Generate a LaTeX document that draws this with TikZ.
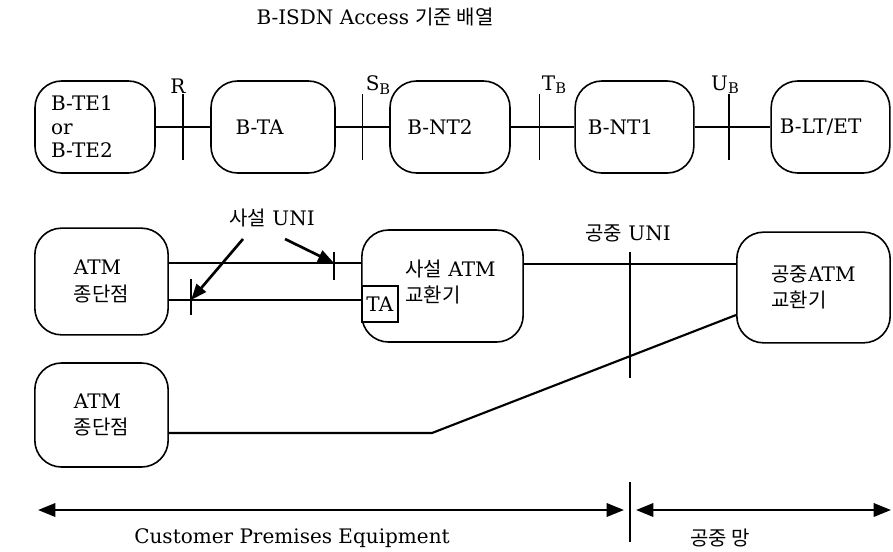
\documentclass[tikz,border=0pt]{standalone}
\usepackage{fontspec}
\setmainfont{DejaVu Serif}
\newfontfamily\kr{Noto Sans CJK KR}
\usetikzlibrary{arrows.meta}
\newcommand{\ko}[1]{{\kr #1}}
\newcommand{\refsub}[2]{#1\raisebox{-2.5pt}{\fontsize{11}{11}\selectfont #2}}

\tikzset{
  unitbox/.style={draw,line width=1.2pt,rounded corners=20pt,minimum width=90pt,minimum height=69pt,align=left,inner sep=2pt},
  tabox/.style={draw,line width=1.2pt,fill=white,minimum size=27pt,inner sep=0pt},
  link/.style={line width=1pt},
  refpt/.style={line width=1.3pt},
  uniarr/.style={-{Triangle[length=12pt,width=9pt]},line width=2pt},
  spanarr/.style={{Triangle[length=13pt,width=10pt]}-{Triangle[length=13pt,width=10pt]},line width=1.8pt}
}

\begin{document}
\begin{tikzpicture}[x=0.75pt,y=-0.75pt,font=\fontsize{15}{17.6}\selectfont]
  \useasboundingbox (0,0) rectangle (893,551);
  % reference configuration
  \node (title) at (375,17) {B-ISDN Access \ko{기준 배열}};
  \node[unitbox,text width=66pt] (bte) at (95,127) {B-TE1\\or\\B-TE2};
  \node[unitbox,minimum width=93pt,text width=56pt] (bta) at (273,127) {B-TA};
  \node[unitbox,text width=64pt] (bnt2) at (450,127) {B-NT2};
  \node[unitbox,minimum width=89pt,text width=70pt] (bnt1) at (634.5,127) {B-NT1};
  \node[unitbox,minimum width=89pt,text width=76pt] (bltet) at (830.5,127) {B-LT/ET};
  \draw[link] (bte) -- (bta) coordinate[midway] (rpt);
  \draw[link] (bta) -- (bnt2) coordinate[midway] (spt);
  \draw[link] (bnt2) -- (bnt1) coordinate[pos=0.45] (tpt);
  \draw[link] (bnt1) -- (bltet) coordinate[pos=0.45] (upt);
  \foreach \p in {rpt,spt,tpt,upt}
    \draw[refpt] (\p) ++(0,-33) -- ++(0,66);
  \node (lblR) at (178,86) {R};
  \node (lblS) at (378,85) {\refsub{S}{B}};
  \node (lblT) at (554,85) {\refsub{T}{B}};
  \node (lblU) at (725,85) {\refsub{U}{B}};

  % ATM network
  \node[unitbox,minimum width=100pt,minimum height=80pt] (atmA) at (101.5,281.5) {ATM\\[2pt]\ko{종단점}};
  \node[unitbox,minimum width=121pt,minimum height=84pt] (priv) at (442.5,286) {};
  \node[align=left,anchor=west,inner sep=0pt] (privlbl) at (405,282) {\ko{사설} ATM\\[2pt]\ko{교환기}};
  \node[tabox,anchor=west] (ta) at (priv.west |- 0,304) {TA};
  \node[unitbox,minimum width=115pt,minimum height=83pt] (pub) at (813.5,287.5) {\ko{공중}ATM\\[2pt]\ko{교환기}};
  \node[unitbox,minimum width=100pt,minimum height=78pt] (atmB) at (101.5,415) {ATM\\[2pt]\ko{종단점}};

  % private UNI
  \coordinate (uniU) at (334,263);
  \coordinate (uniL) at (191,300);
  \draw[link] (atmA.east |- uniU) -- (priv.west |- uniU);
  \draw[link] (atmA.east |- uniL) -- (ta.west |- uniL);
  \draw[refpt] (uniU) ++(0,-11) -- ++(0,28);
  \draw[refpt] (uniL) ++(0,-21) -- ++(0,36);
  \node (privuni) at (272,218) {\ko{사설} UNI};
  \coordinate (arrL) at (243,239);
  \coordinate (arrR) at (285,239);
  \draw[uniarr] (arrL) -- (uniL);
  \draw[uniarr] (arrR) -- (uniU);

  % public UNI
  \coordinate (pubpt) at (630,264);
  \coordinate (bend) at (432,433);
  \draw[link] (priv.east |- pubpt) -- (pub.west |- pubpt);
  \draw[refpt] (pubpt) ++(0,-12) -- ++(0,126);
  \node (pubuni) at (628,233) {\ko{공중} UNI};
  \draw[line width=1.6pt] (pub.west |- 0,315) -- (bend) -- (atmB.east |- bend);

  % premises / network span
  \coordinate (cpeL) at (38,510);
  \coordinate (border) at (630,510);
  \coordinate (netR) at (891,510);
  \draw[line width=2.2pt] (border) ++(0,-28) -- ++(0,60);
  \draw[spanarr] (cpeL) -- ([xshift=-4.5pt]border);
  \draw[spanarr] ([xshift=4.5pt]border) -- (netR);
  \node (cpe) at (292,538) {Customer Premises Equipment};
  \node (pubnet) at (720,538) {\ko{공중 망}};
\end{tikzpicture}
\end{document}
